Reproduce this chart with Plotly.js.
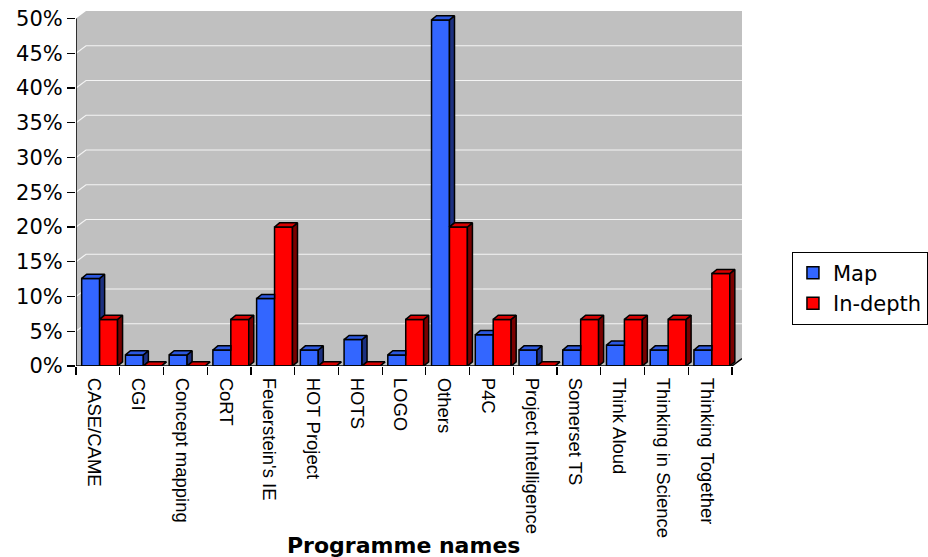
<!DOCTYPE html>
<html><head><meta charset="utf-8">
<script src="https://cdn.plot.ly/plotly-3.0.1.min.js"></script>
<style>html,body{margin:0;padding:0;background:#fff}#chart{width:928px;height:557px}</style>
</head><body><div id="chart"></div>
<script>
// ---- data ----
const programmes = ["CASE/CAME","CGI","Concept mapping","CoRT","Feuerstein's IE","HOT Project","HOTS","LOGO","Others","P4C","Project Intelligence","Somerset TS","Think Aloud","Thinking in Science","Thinking Together"];
const mapPct = [12.6,1.6,1.6,2.3,9.7,2.3,3.8,1.6,49.8,4.5,2.3,2.3,3.0,2.3,2.3];
const inDepthPct = [6.7,0,0,6.7,20,0,0,6.7,20,6.7,0,6.7,6.7,6.7,13.3];
const yTickVals = [0,5,10,15,20,25,30,35,40,45,50];
const yTickText = ["0%","5%","10%","15%","20%","25%","30%","35%","40%","45%","50%"];
const seriesNames = ["Map","In-depth"];

// ---- style / geometry ----
const N = programmes.length;
const idx = programmes.map((_, i) => i);
const BAR_W = 0.41, OFF_MAP = -0.37, OFF_IN = 0.04;
const DXB = 0.115, DYB = 0.6;     // bar depth (x units, % units)
const DXW = 0.229, DYW = 1.08;    // wall depth
const LABEL_SHIFT = -0.08;
const YMAX = 50;
const BLUE = "#3366FF", BLUE_TOP = "#2C58E0", BLUE_SIDE = "#1C3080";
const RED = "#FF0000", RED_TOP = "#D80000", RED_SIDE = "#7A0000";

function pushPoly(arrX, arrY, pts) {
  pts.forEach(p => { arrX.push(p[0]); arrY.push(p[1]); });
  arrX.push(pts[0][0]); arrY.push(pts[0][1]);
  arrX.push(null); arrY.push(null);
}

// Map (blue) faces, clipped against the In-depth front face to its right
const bsX = [], bsY = [], btX = [], btY = [];
idx.forEach(i => {
  const v = mapPct[i], r = inDepthPct[i];
  const x0 = i + OFF_MAP, x1 = x0 + BAR_W;
  if (v > r) pushPoly(bsX, bsY, [[x1, r], [x1 + DXB, r + DYB], [x1 + DXB, v + DYB], [x1, v]]);
  if (r <= v) {
    pushPoly(btX, btY, [[x0, v], [x1, v], [x1 + DXB, v + DYB], [x0 + DXB, v + DYB]]);
  } else if (r >= v + DYB) {
    pushPoly(btX, btY, [[x0, v], [x1, v], [x1, v + DYB], [x0 + DXB, v + DYB]]);
  } else {
    pushPoly(btX, btY, [[x0, v], [x1, v], [x1, r], [x1 + DXB * (r - v) / DYB, r], [x1 + DXB, v + DYB], [x0 + DXB, v + DYB]]);
  }
});
// In-depth (red) faces
const rsX = [], rsY = [], rtX = [], rtY = [];
idx.forEach(i => {
  const v = inDepthPct[i];
  const x0 = i + OFF_IN, x1 = x0 + BAR_W;
  pushPoly(rsX, rsY, [[x1, 0], [x1 + DXB, DYB], [x1 + DXB, v + DYB], [x1, v]]);
  pushPoly(rtX, rtY, [[x0, v], [x1, v], [x1 + DXB, v + DYB], [x0 + DXB, v + DYB]]);
});

const edge = {color: "#000", width: 1.5};
const faceTrace = (x, y, fc) => ({type: "scatter", mode: "lines", x, y, fill: "toself", fillcolor: fc,
  line: edge, showlegend: false, hoverinfo: "skip"});

const data = [
  {type: "bar", name: seriesNames[0], x: idx, y: mapPct, width: BAR_W, offset: OFF_MAP,
   marker: {color: BLUE, line: edge}},
  {type: "bar", name: seriesNames[1], x: idx, y: inDepthPct, width: BAR_W, offset: OFF_IN,
   marker: {color: RED, line: edge}},
  faceTrace(bsX, bsY, BLUE_SIDE),
  faceTrace(btX, btY, BLUE_TOP),
  faceTrace(rsX, rsY, RED_SIDE),
  faceTrace(rtX, rtY, RED_TOP)
];

const L = -0.5, R = N - 0.5;
const shapes = [
  {type: "path", xref: "x", yref: "y", layer: "below",
   path: `M ${L},0 L ${L},${YMAX} L ${L + DXW},${YMAX + DYW} L ${R + DXW},${YMAX + DYW} L ${R + DXW},${DYW} L ${R},0 Z`,
   fillcolor: "#C0C0C0", line: {width: 0}}
];
yTickVals.filter(v => v > 0 && v < YMAX).forEach(v => {
  shapes.push({type: "path", xref: "x", yref: "y", layer: "below",
    path: `M ${L},${v} L ${L + DXW},${v + DYW} L ${R + DXW},${v + DYW}`,
    line: {color: "#F4F4F4", width: 1.2}});
});
shapes.push({type: "line", xref: "x", yref: "y", x0: L, x1: L, y0: 0, y1: YMAX, line: {color: "#000", width: 1.5}});
shapes.push({type: "path", xref: "x", yref: "y", path: `M ${L},0 L ${R},0 L ${R + DXW},${DYW}`, line: {color: "#000", width: 1.5}});

const boundaries = idx.map(i => i - 0.5).concat([N - 0.5]);

const layout = {
  width: 928, height: 557,
  margin: {l: 76, r: 186, t: 11, b: 191, autoexpand: false},
  paper_bgcolor: "#fff", plot_bgcolor: "#fff",
  barmode: "overlay",
  showlegend: true,
  font: {family: "DejaVu Sans, Verdana, sans-serif", color: "#000"},
  xaxis: {type: "linear", range: [L, R + DXW], tickmode: "array", tickvals: idx.map(i => i + LABEL_SHIFT), ticktext: programmes,
    tickangle: 90, ticks: "outside", ticklen: 7, tickcolor: "rgba(0,0,0,0)",
    minor: {tickmode: "array", tickvals: boundaries, ticks: "outside", ticklen: 8, tickwidth: 1.2, tickcolor: "#000", showgrid: false},
    showgrid: false, zeroline: false, showline: false, fixedrange: true,
    tickfont: {family: "Liberation Sans, Arial, sans-serif", size: 18.5, color: "#000"}},
  yaxis: {range: [0, YMAX + DYW], tickmode: "array", tickvals: yTickVals, ticktext: yTickText,
    ticks: "outside", ticklen: 8, tickwidth: 1.2, tickcolor: "#000",
    showgrid: false, zeroline: false, showline: false, fixedrange: true,
    tickfont: {family: "DejaVu Sans, Verdana, sans-serif", size: 21, color: "#000"}},
  legend: {x: 1.075, y: 0.322, xanchor: "left", yanchor: "top", bordercolor: "#000", borderwidth: 1,
    bgcolor: "#fff", font: {family: "DejaVu Sans, Verdana, sans-serif", size: 21, color: "#000"}},
  shapes: shapes,
  annotations: [{text: "<b>Programme names</b>", xref: "x", yref: "paper", x: (N - 1) / 2, y: -0.507,
    xanchor: "center", yanchor: "middle", showarrow: false,
    font: {family: "DejaVu Sans, Verdana, sans-serif", size: 22, color: "#000"}}]
};

Plotly.newPlot("chart", data, layout, {displayModeBar: false, staticPlot: true});
</script>
</body></html>
